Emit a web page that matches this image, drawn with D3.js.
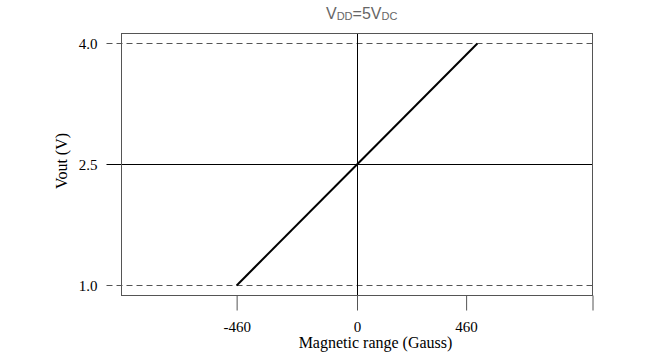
<!DOCTYPE html>
<html>
<head>
<meta charset="utf-8">
<script src="https://cdn.jsdelivr.net/npm/d3@7"></script>
<style>
  body { margin: 0; background: #fff; }
  svg { display: block; }
</style>
</head>
<body>
<svg id="chart" width="669" height="360"></svg>
<script>
// ---- data ----
const xDomain = [-900, 900];
const yDomain = [0.875, 4.125];
const fieldGauss = [-460, 0, 460];
const voutV = [1.0, 2.5, 4.0];
const xTickValues = [-460, 0, 417, 900];
const xTickLabels = ["-460", "0", "460", ""];
const yTickValues = [1.0, 2.5, 4.0];
const yTickLabels = ["1.0", "2.5", "4.0"];
const refLevels = [1.0, 2.5, 4.0];
const refDashed = [true, false, true];

// ---- layout ----
const W = 669, H = 360;
const margin = { top: 33, right: 77, bottom: 65, left: 121 };
const iw = W - margin.left - margin.right;
const ih = H - margin.top - margin.bottom;

const svg = d3.select("#chart");
const g = svg.append("g").attr("transform", `translate(${margin.left + 0.5},${margin.top + 0.5})`);

const x = d3.scaleLinear().domain(xDomain).range([0, iw]);
const y = d3.scaleLinear().domain(yDomain).range([ih, 0]);

const serif = "'Liberation Serif', 'Times New Roman', serif";

// reference horizontal lines (extend out as y ticks)
g.selectAll(".ref").data(refLevels).enter().append("line")
  .attr("x1", -15).attr("x2", iw)
  .attr("y1", d => Math.round(y(d))).attr("y2", d => Math.round(y(d)))
  .attr("stroke", (d, i) => refDashed[i] ? "#555" : "#000")
  .attr("stroke-width", 1)
  .attr("stroke-dasharray", (d, i) => refDashed[i] ? "6,4" : null);

// vertical zero line
g.append("line")
  .attr("x1", Math.round(x(0))).attr("x2", Math.round(x(0)))
  .attr("y1", 0).attr("y2", ih)
  .attr("stroke", "#000").attr("stroke-width", 1);

// frame
g.append("rect").attr("x", 0).attr("y", 0).attr("width", iw).attr("height", ih)
  .attr("fill", "none").attr("stroke", "#555").attr("stroke-width", 1);

// x axis
const xAxis = d3.axisBottom(x).tickValues(xTickValues)
  .tickFormat((d, i) => xTickLabels[i]).tickSize(15).tickSizeOuter(0);
const gx = g.append("g").attr("transform", `translate(0,${ih})`).call(xAxis);
gx.select(".domain").remove();
gx.selectAll(".tick line").attr("stroke", "#555");
gx.selectAll(".tick text").attr("y", 36).attr("dy", 0)
  .attr("font-family", serif).attr("font-size", 15).attr("fill", "#000");

// y axis labels
const yAxis = d3.axisLeft(y).tickValues(yTickValues)
  .tickFormat((d, i) => yTickLabels[i]).tickSize(0).tickPadding(24);
const gy = g.append("g").call(yAxis);
gy.select(".domain").remove();
gy.selectAll(".tick text").attr("font-family", serif).attr("font-size", 15)
  .attr("fill", "#000").attr("dy", "0.36em");

// data line
const line = d3.line().x(d => x(d[0])).y(d => y(d[1]));
g.append("path")
  .datum(fieldGauss.map((v, i) => [v, voutV[i]]))
  .attr("d", line)
  .attr("fill", "none").attr("stroke", "#000").attr("stroke-width", 2);

// axis titles
svg.append("text")
  .attr("x", margin.left + iw / 2 + 19).attr("y", 348)
  .attr("text-anchor", "middle")
  .attr("font-family", serif).attr("font-size", 16).attr("fill", "#000")
  .text("Magnetic range (Gauss)");

svg.append("text")
  .attr("transform", `translate(67,${margin.top + y(2.5) - 3}) rotate(-90)`)
  .attr("text-anchor", "middle")
  .attr("font-family", serif).attr("font-size", 16).attr("fill", "#000")
  .text("Vout (V)");

// title
const title = svg.append("text")
  .attr("x", 326).attr("y", 19)
  .attr("font-family", "'Liberation Sans', Arial, sans-serif")
  .attr("font-size", 16).attr("fill", "#666");
title.append("tspan").text("V");
title.append("tspan").attr("font-size", 11).attr("dy", 1).text("DD");
title.append("tspan").attr("dy", -1).text("=5V");
title.append("tspan").attr("font-size", 11).attr("dy", 1).text("DC");
</script>
</body>
</html>
